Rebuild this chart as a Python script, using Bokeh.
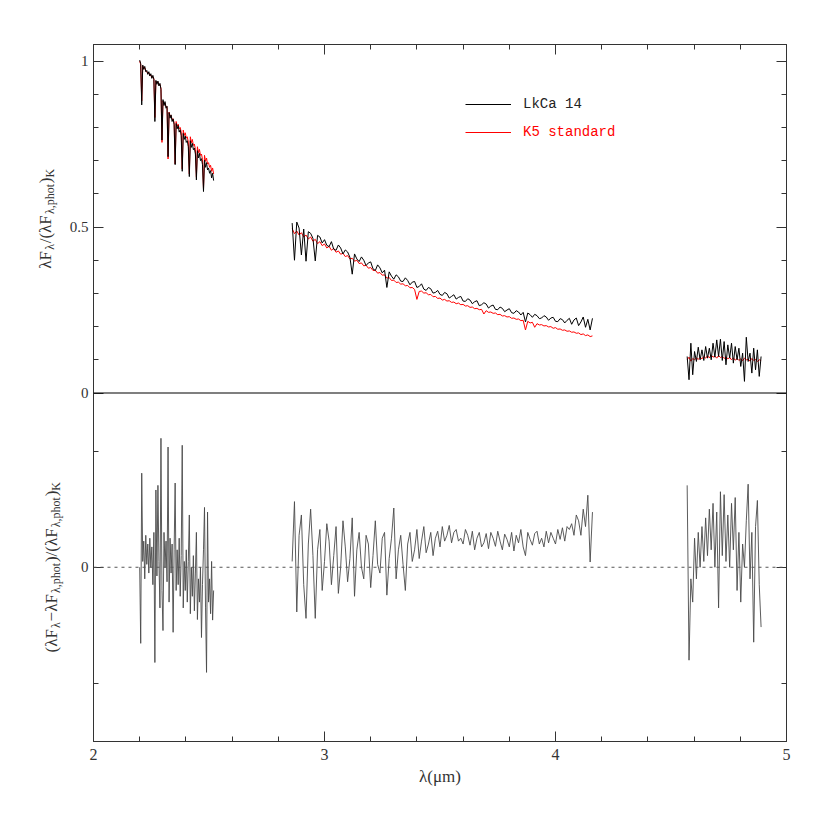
import math
import numpy as np
from bokeh.plotting import figure
from bokeh.layouts import row
from bokeh.models import (Range1d, LinearAxis, FixedTicker, Legend, LegendItem,
                          CustomJSTickFormatter, Span)
from bokeh.core.properties import value
from bokeh.embed import file_html
from bokeh.resources import INLINE

# ---------------- data ----------------
# wavelength windows (micron)
k_band = (2.20, 2.52)
l_band = (2.86, 4.16)
m_band = (4.57, 4.89)

# top panel: normalised flux, K window
k_lkca = [1.003, 0.992, 0.868, 0.988, 0.975, 0.984, 0.968, 0.972, 0.960, 0.968,
          0.955, 0.962, 0.948, 0.957, 0.945, 0.818, 0.942, 0.930, 0.940, 0.925,
          0.933, 0.915, 0.762, 0.884, 0.866, 0.878, 0.858, 0.864, 0.712, 0.845,
          0.828, 0.838, 0.818, 0.826, 0.808, 0.688, 0.812, 0.796, 0.806, 0.786,
          0.793, 0.775, 0.668, 0.782, 0.764, 0.774, 0.755, 0.760, 0.742, 0.652,
          0.760, 0.740, 0.752, 0.733, 0.738, 0.720, 0.642, 0.730, 0.708, 0.722,
          0.700, 0.706, 0.688, 0.607, 0.702, 0.680, 0.694, 0.672, 0.678, 0.662,
          0.670, 0.648, 0.662, 0.640]
k_k5 = [1.000, 0.990, 0.880, 0.985, 0.978, 0.980, 0.970, 0.968, 0.963, 0.965,
        0.957, 0.958, 0.950, 0.953, 0.946, 0.830, 0.940, 0.934, 0.937, 0.928,
        0.930, 0.918, 0.755, 0.880, 0.870, 0.874, 0.862, 0.862, 0.705, 0.846,
        0.834, 0.836, 0.824, 0.826, 0.814, 0.690, 0.818, 0.804, 0.810, 0.796,
        0.800, 0.786, 0.675, 0.792, 0.776, 0.784, 0.768, 0.772, 0.756, 0.660,
        0.772, 0.754, 0.764, 0.746, 0.750, 0.734, 0.650, 0.742, 0.724, 0.734,
        0.716, 0.720, 0.704, 0.615, 0.716, 0.698, 0.708, 0.690, 0.694, 0.680,
        0.686, 0.668, 0.678, 0.660]

# top panel: L window
l_lkca = [0.512, 0.400, 0.515, 0.497, 0.416, 0.494, 0.397, 0.486, 0.481, 0.466,
          0.398, 0.475, 0.470, 0.452, 0.462, 0.445, 0.441, 0.456, 0.433, 0.430,
          0.446, 0.437, 0.419, 0.431, 0.425, 0.409, 0.358, 0.419, 0.404, 0.396,
          0.410, 0.400, 0.384, 0.392, 0.395, 0.374, 0.369, 0.386, 0.377, 0.362,
          0.370, 0.318, 0.365, 0.352, 0.343, 0.356, 0.350, 0.337, 0.336, 0.347,
          0.339, 0.326, 0.334, 0.336, 0.318, 0.321, 0.329, 0.313, 0.309, 0.318,
          0.314, 0.301, 0.303, 0.309, 0.297, 0.294, 0.303, 0.299, 0.286, 0.291,
          0.296, 0.283, 0.288, 0.291, 0.277, 0.276, 0.284, 0.280, 0.269, 0.275,
          0.278, 0.263, 0.266, 0.272, 0.268, 0.256, 0.262, 0.265, 0.252, 0.251,
          0.259, 0.255, 0.245, 0.250, 0.254, 0.242, 0.240, 0.248, 0.244, 0.235,
          0.243, 0.214, 0.241, 0.236, 0.228, 0.237, 0.233, 0.224, 0.226, 0.233,
          0.229, 0.219, 0.226, 0.228, 0.216, 0.215, 0.224, 0.221, 0.211, 0.219,
          0.225, 0.207, 0.220, 0.226, 0.203, 0.214, 0.229, 0.198, 0.222, 0.190,
          0.225]
l_k5 = [0.495, 0.480, 0.488, 0.476, 0.483, 0.470, 0.476, 0.464, 0.470, 0.457,
        0.463, 0.450, 0.456, 0.444, 0.449, 0.437, 0.442, 0.430, 0.436, 0.424,
        0.428, 0.418, 0.421, 0.411, 0.414, 0.404, 0.406, 0.397, 0.400, 0.390,
        0.392, 0.383, 0.385, 0.376, 0.378, 0.369, 0.370, 0.361, 0.363, 0.355,
        0.356, 0.346, 0.348, 0.339, 0.340, 0.333, 0.334, 0.328, 0.329, 0.323,
        0.324, 0.317, 0.318, 0.312, 0.282, 0.306, 0.307, 0.301, 0.302, 0.296,
        0.297, 0.290, 0.291, 0.285, 0.286, 0.280, 0.282, 0.277, 0.278, 0.273,
        0.274, 0.269, 0.271, 0.266, 0.267, 0.262, 0.263, 0.258, 0.259, 0.254,
        0.255, 0.251, 0.252, 0.238, 0.248, 0.243, 0.244, 0.240, 0.241, 0.236,
        0.237, 0.232, 0.233, 0.229, 0.230, 0.225, 0.226, 0.222, 0.223, 0.218,
        0.219, 0.190, 0.216, 0.211, 0.213, 0.198, 0.209, 0.205, 0.206, 0.202,
        0.203, 0.199, 0.200, 0.195, 0.197, 0.192, 0.193, 0.189, 0.190, 0.186,
        0.187, 0.183, 0.184, 0.180, 0.181, 0.176, 0.178, 0.173, 0.175, 0.170,
        0.172]

# top panel: M window
m_lkca = [0.110, 0.040, 0.150, 0.055, 0.125, 0.095, 0.138, 0.100, 0.130, 0.098,
          0.140, 0.105, 0.135, 0.100, 0.150, 0.108, 0.160, 0.110, 0.162, 0.098,
          0.155, 0.085, 0.145, 0.105, 0.150, 0.090, 0.140, 0.100, 0.135, 0.080,
          0.120, 0.035, 0.168, 0.095, 0.120, 0.060, 0.135, 0.070, 0.130, 0.050,
          0.110]
m_k5 = [0.100, 0.108, 0.096, 0.104, 0.100, 0.106, 0.101, 0.108, 0.103, 0.110,
        0.105, 0.112, 0.106, 0.114, 0.108, 0.111, 0.105, 0.113, 0.107, 0.110,
        0.104, 0.109, 0.103, 0.107, 0.100, 0.106, 0.099, 0.104, 0.098, 0.103,
        0.097, 0.105, 0.100, 0.102, 0.096, 0.104, 0.098, 0.101, 0.095, 0.100,
        0.098]

# bottom panel: residuals
k_resid = [0.000, -0.131, 0.162, 0.010, 0.045, -0.020, 0.055, 0.005, 0.040, -0.010,
           0.050, 0.000, 0.035, -0.030, 0.060, -0.164, 0.133, -0.015, 0.141, 0.010,
           -0.070, 0.222, -0.040, -0.109, 0.060, 0.000, 0.045, -0.025, 0.207, -0.060,
           0.050, -0.010, 0.040, -0.112, 0.030, 0.145, -0.040, 0.030, -0.030, 0.050,
           -0.050, 0.020, 0.210, -0.070, 0.010, -0.040, 0.030, -0.060, 0.010, 0.090,
           -0.080, 0.000, -0.050, 0.020, -0.075, -0.010, 0.060, -0.090, -0.020, -0.060,
           0.000, -0.121, -0.030, 0.030, 0.103, -0.070, -0.181, 0.095, -0.060, -0.020,
           -0.080, 0.010, -0.091, -0.040]
l_resid = [0.010, 0.113, -0.077, 0.055, 0.090, -0.030, -0.088, 0.040, 0.100, 0.020,
           -0.088, 0.030, 0.065, -0.040, 0.010, 0.075, 0.045, -0.030, 0.020, 0.070,
           -0.045, 0.000, 0.080, 0.035, -0.025, 0.015, 0.085, -0.050, 0.030, 0.060,
           0.000, -0.020, 0.055, 0.040, -0.035, 0.020, 0.080, 0.005, -0.010, 0.050,
           0.060, -0.048, 0.015, 0.050, 0.102, -0.020, 0.030, 0.055, 0.005, -0.040,
           0.040, 0.060, 0.010, 0.030, 0.065, 0.015, 0.045, 0.070, 0.025, 0.040,
           0.060, 0.020, 0.050, 0.062, 0.035, 0.070, 0.045, 0.055, 0.072, 0.042,
           0.060, 0.065, 0.045, 0.050, 0.040, 0.065, 0.055, 0.038, 0.062, 0.030,
           0.050, 0.060, 0.035, 0.042, 0.058, 0.032, 0.060, 0.050, 0.036, 0.062,
           0.045, 0.030, 0.057, 0.048, 0.035, 0.060, 0.028, 0.055, 0.042, 0.065,
           0.035, 0.020, 0.060, 0.048, 0.038, 0.058, 0.062, 0.040, 0.050, 0.035,
           0.062, 0.042, 0.060, 0.050, 0.040, 0.065, 0.048, 0.068, 0.045, 0.070,
           0.065, 0.075, 0.055, 0.090, 0.080, 0.055, 0.100, 0.070, 0.124, 0.009,
           0.095]
m_resid = [0.141, -0.160, -0.020, -0.060, 0.050, -0.020, 0.060, 0.000, 0.070, 0.010,
           0.085, 0.020, 0.100, 0.030, 0.110, 0.000, 0.095, -0.070, 0.130, 0.020,
           0.125, 0.010, 0.090, 0.000, 0.110, 0.030, 0.120, -0.040, 0.060, -0.060,
           0.040, 0.000, 0.080, 0.143, -0.020, 0.060, -0.129, 0.070, 0.115, -0.030,
           -0.103]

# axes / ticks
x_ticks = [2, 3, 4, 5]
x_minor = [2.2, 2.4, 2.6, 2.8, 3.2, 3.4, 3.6, 3.8, 4.2, 4.4, 4.6, 4.8]
top_ticks = [0, 0.5, 1]
top_minor = [0.1, 0.2, 0.3, 0.4, 0.6, 0.7, 0.8, 0.9]
res_ticks = [0]
res_minor = [-0.2, 0.2]
TOP = (-1.05, 1.05)   # upper half of the frame shows 0 .. 1.05
RES = (-0.3, 0.9)     # lower half of the frame shows -0.3 .. 0.3

# y-axis titles: (text, is_subscript)
top_title = [("λF", False), ("λ", True), ("/(λF", False), ("λ,phot", True), (")", False), ("K", True)]
res_title = [("(λF", False), ("λ", True), ("−λF", False), ("λ,phot", True), (")/(λF", False),
             ("λ,phot", True), (")", False), ("K", True)]

# ---------------- layout constants ----------------
SERIF = "Liberation Serif"
MONO = "Liberation Mono"
INK = "#333333"
LAB_W = 66          # width of the strip holding the rotated y titles
FRAME_T, FRAME_B = 44, 81
FRAME_H = 697
TOTAL_H = FRAME_T + FRAME_H + FRAME_B
MAIN_W = 822 - LAB_W

p = figure(width=MAIN_W, height=TOTAL_H, x_range=Range1d(2, 5), y_range=Range1d(*TOP),
           output_backend="svg", toolbar_location=None,
           x_axis_location=None, y_axis_location=None,
           min_border_left=90 - LAB_W, min_border_right=36,
           min_border_top=FRAME_T, min_border_bottom=FRAME_B)
p.extra_y_ranges = {"res": Range1d(*RES)}
p.grid.visible = False
p.outline_line_color = INK
p.outline_line_width = 1


def res_to_top(r):
    return TOP[0] + (r - RES[0]) * (TOP[1] - TOP[0]) / (RES[1] - RES[0])


blank = CustomJSTickFormatter(code='return "";')


def style_axis(ax, labels=True):
    ax.major_tick_in = 10
    ax.major_tick_out = 0
    ax.minor_tick_in = 5
    ax.minor_tick_out = 0
    ax.axis_line_color = INK
    ax.major_tick_line_color = INK
    ax.minor_tick_line_color = INK
    ax.major_label_text_font = SERIF
    ax.major_label_text_font_size = "16px"
    ax.major_label_text_color = INK
    ax.major_label_standoff = 7 if labels else 0


y_ticker = FixedTicker(ticks=top_ticks + [res_to_top(t) for t in res_ticks],
                       minor_ticks=top_minor + [res_to_top(t) for t in res_minor])
y_fmt = CustomJSTickFormatter(code="""
if (Math.abs(tick - 0.5) < 1e-6) { return "0.5"; }
if (Math.abs(tick - 1) < 1e-6) { return "1"; }
return "0";
""")
x_ticker = FixedTicker(ticks=x_ticks, minor_ticks=x_minor)

ax_left = LinearAxis(ticker=y_ticker, formatter=y_fmt)
style_axis(ax_left)
ax_left.major_label_text_font_size = "15px"
ax_left.major_label_standoff = 5
p.add_layout(ax_left, "left")

ax_right = LinearAxis(ticker=y_ticker, formatter=blank)
style_axis(ax_right, labels=False)
p.add_layout(ax_right, "right")

ax_top = LinearAxis(ticker=x_ticker, formatter=blank)
style_axis(ax_top, labels=False)
p.add_layout(ax_top, "above")

ax_bot = LinearAxis(ticker=x_ticker, axis_label="λ(μm)")
style_axis(ax_bot)
ax_bot.axis_label_text_font = SERIF
ax_bot.axis_label_text_font_size = "17px"
ax_bot.axis_label_text_font_style = "normal"
ax_bot.axis_label_text_color = INK
ax_bot.axis_label_standoff = 4
p.add_layout(ax_bot, "below")

# separator between panels and dotted zero of the residuals
p.add_layout(Span(location=0, dimension="width", line_color="black", line_width=1.2))
p.add_layout(Span(location=0, dimension="width", y_range_name="res",
                  line_color="#555555", line_width=1, line_dash="3 4"))

# spectra
red_r = None
blk_r = None
for (lo, hi), k5, lk in [(k_band, k_k5, k_lkca), (l_band, l_k5, l_lkca), (m_band, m_k5, m_lkca)]:
    r1 = p.line(np.linspace(lo, hi, len(k5)), k5, line_color="red", line_width=1)
    r2 = p.line(np.linspace(lo, hi, len(lk)), lk, line_color="black", line_width=1)
    red_r = red_r or r1
    blk_r = blk_r or r2

for (lo, hi), rs in [(k_band, k_resid), (l_band, l_resid), (m_band, m_resid)]:
    p.line(np.linspace(lo, hi, len(rs)), rs, y_range_name="res",
           line_color="#4a4a4a", line_width=0.9)

# legend (two single-item legends so that each label keeps its colour)
for item, colour, yloc in [(LegendItem(label="LkCa 14", renderers=[blk_r]), "#222222", 627),
                           (LegendItem(label="K5 standard", renderers=[red_r]), "red", 599)]:
    lg = Legend(items=[item], location=(372, yloc), padding=0, margin=0,
                border_line_color=None, background_fill_alpha=0,
                glyph_width=46, glyph_height=20, label_height=20, label_standoff=12,
                label_text_font=MONO, label_text_font_size="14px",
                label_text_color=colour)
    p.add_layout(lg, "center")

# ---------------- strip with the rotated y titles ----------------
lab = figure(width=LAB_W, height=TOTAL_H, x_range=Range1d(0, LAB_W), y_range=Range1d(*TOP),
             output_backend="svg", toolbar_location=None,
             x_axis_location=None, y_axis_location=None,
             min_border_left=0, min_border_right=0,
             min_border_top=FRAME_T, min_border_bottom=FRAME_B)
lab.extra_y_ranges = {"res": Range1d(*RES)}
lab.grid.visible = False
lab.outline_line_color = None

WID = {"λ": 0.55, "F": 0.556, "/": 0.278, "(": 0.333, ")": 0.333, ",": 0.25,
       "p": 0.5, "h": 0.5, "o": 0.5, "t": 0.278, "K": 0.722, "−": 0.564}
MAIN, SUB = 17, 12


def width(s, size):
    return sum(WID.get(c, 0.5) for c in s) * size


def ylabel(pieces, rng, range_name, base_x):
    lo, hi = rng
    per_px = (hi - lo) / FRAME_H
    centre = (0 + TOP[1]) / 2 if range_name == "default" else 0.0
    total = sum(width(s, SUB if sub else MAIN) for s, sub in pieces)
    pos = -total / 2
    groups = {False: ([], [], []), True: ([], [], [])}
    for s, sub in pieces:
        size = SUB if sub else MAIN
        gx, gy, gt = groups[sub]
        gx.append(base_x + (4 if sub else 0))
        gy.append(centre + pos * per_px)
        gt.append(s)
        pos += width(s, size)
    for sub, (gx, gy, gt) in groups.items():
        lab.text(x=gx, y=gy, text=gt, y_range_name=range_name, angle=math.pi / 2,
                 text_align="left", text_baseline="alphabetic",
                 text_font=value(SERIF), text_font_size=value(f"{SUB if sub else MAIN}px"),
                 text_color=INK)


ylabel(top_title, TOP, "default", 45)
ylabel(res_title, RES, "res", 51)

layout = row(lab, p)
open("out.html", "w").write(file_html(layout, INLINE))
